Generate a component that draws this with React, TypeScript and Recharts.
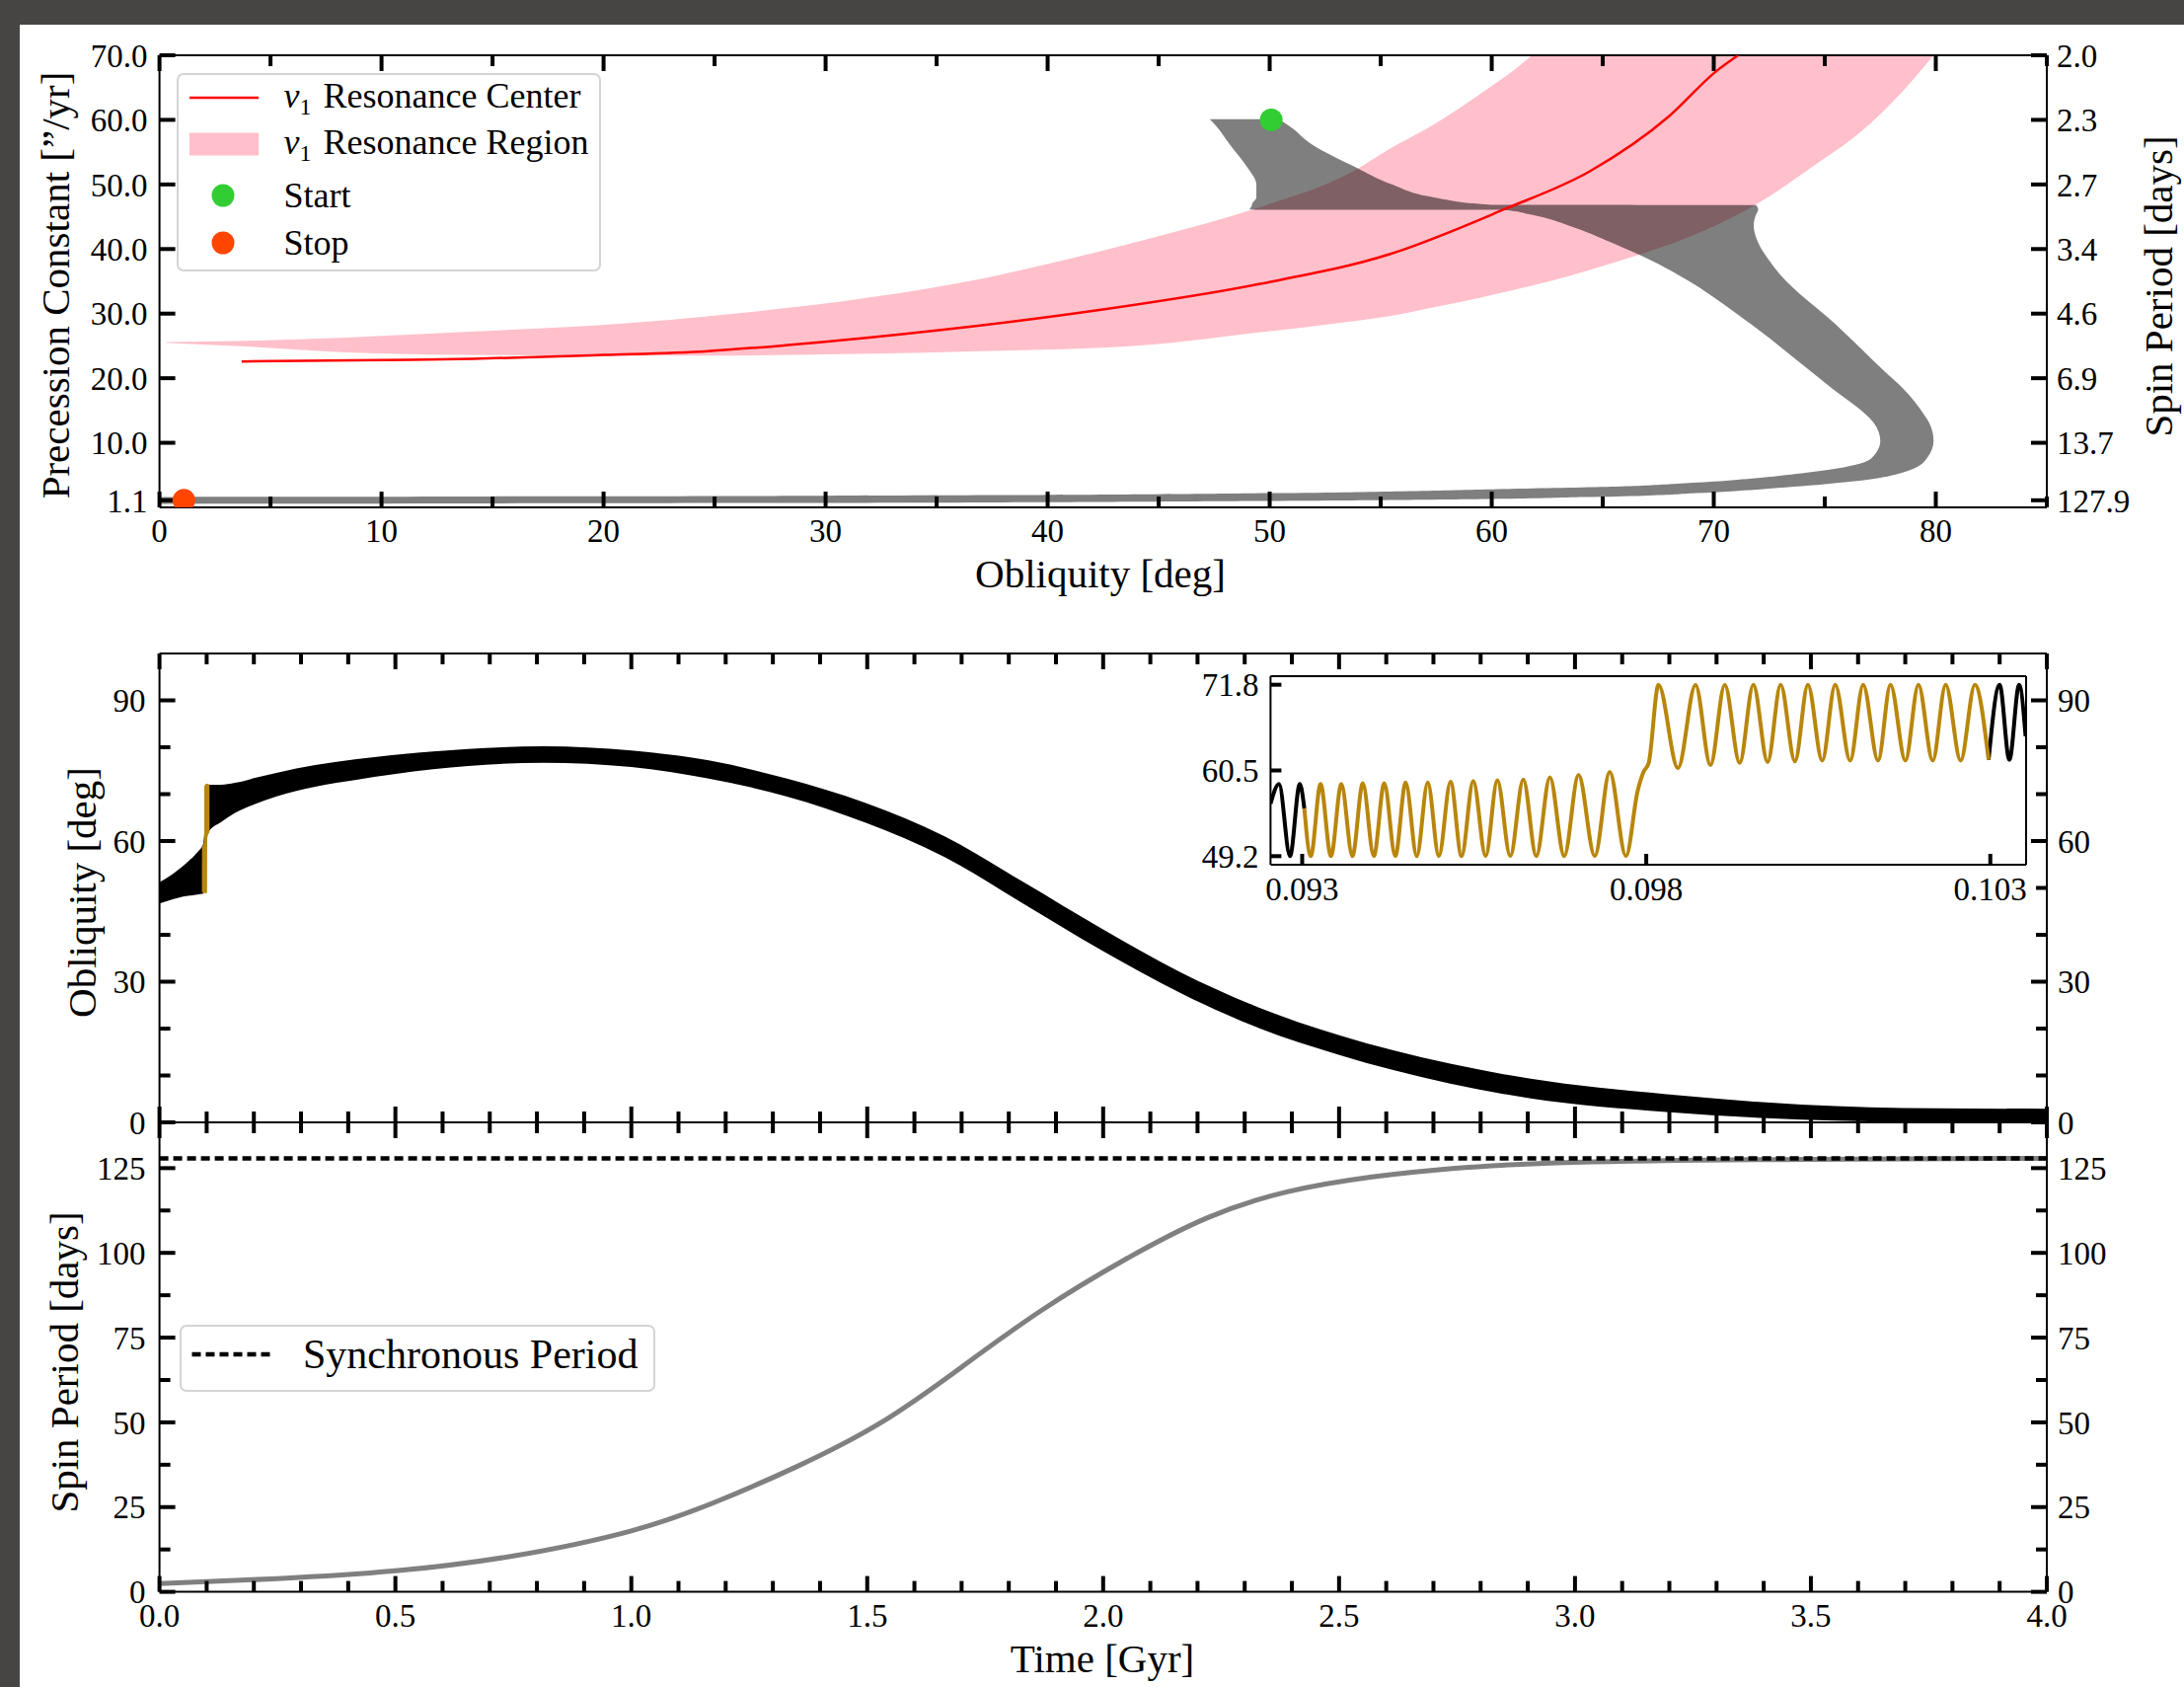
import React from 'react';
import { ComposedChart, Area, Line, Scatter, XAxis, YAxis, Legend } from 'recharts';

const W = 2213;
const H = 1709;
const FONT = '"Liberation Serif", "Times New Roman", serif';
const DARK = '#464543';

// ---------------- Panel 1 : precession constant vs obliquity ----------------
const OBLIQ_MAJOR = [0, 10, 20, 30, 40, 50, 60, 70, 80];
const OBLIQ_MINOR = [5, 15, 25, 35, 45, 55, 65, 75, 85];
const PREC_TICKS = [1.1, 10, 20, 30, 40, 50, 60, 70];
const SPIN_TICK_LABELS = ['127.9', '13.7', '6.9', '4.6', '3.4', '2.7', '2.3', '2.0'];

// nu_1 resonance region (pink band); upper edge continues above the frame
const REGION_OBLIQ = [0.3, 4, 8.4, 14, 21, 25, 32, 37, 41.6, 45, 49.3, 53.9, 55.4, 57.4, 59.4, 61.4, 62.0, 65.4, 69.4, 71.9, 74.5, 76.5, 78.5, 79.9];
const REGION_LOW = [25.5, 24.9, 24.0, 23.6, 23.5, 23.5, 23.8, 24.2, 24.6, 25.3, 27.0, 28.9, 29.6, 31.0, 32.4, 34.0, 34.5, 37.8, 42.6, 46.9, 52.9, 57.8, 64.4, 70.0];
const REGION_HIGH = [25.6, 25.8, 26.3, 27.2, 28.5, 29.7, 32.5, 35.4, 39.0, 42.0, 46.2, 52.3, 55.5, 59.3, 63.8, 68.8, 70.6, 81, 95, 104, 114, 122, 130, 136];

// nu_1 resonance center (red line)
const CENTER_OBLIQ = [3.7, 10, 14.1, 20, 24.7, 28.2, 35.3, 42.4, 49.4, 55.4, 60.6, 64.4, 68.0, 70.1, 71.1];
const CENTER_PREC = [22.6, 22.8, 23.0, 23.6, 24.2, 25.1, 27.5, 30.6, 34.5, 39.2, 46.2, 52.0, 60.6, 67.5, 70.0];

// trajectory envelope (gray): obliquity range at each precession constant
const TRACK_PREC = [0.55, 0.7, 1.0, 1.3, 1.6, 1.7, 1.8, 2.2, 2.5, 2.8, 3.2, 3.6, 4.0, 4.6, 5.4, 6.0, 7.6, 10.3, 13.1, 14.2, 18.5, 20.7, 28.3, 36.0, 38.2, 41.0, 43.6, 45.3, 46.07, 46.1, 46.8, 46.85, 48.0, 50.0, 52.6, 56.2, 59.0, 60.1];
const TRACK_OBLIQ_MIN = [0, 0, 0, 0, 0, 15, 30, 50, 56, 60, 65.4, 68.0, 70.0, 72.1, 74.2, 75.5, 77.1, 77.5, 77.2, 76.9, 75.3, 74.5, 71.7, 68.4, 67.2, 65.4, 63.5, 61.8, 60.5, 49.1, 49.2, 49.2, 49.4, 49.4, 49.0, 48.2, 47.6, 47.3];
const TRACK_OBLIQ_MAX = [0.3, 30, 50, 60, 64.2, 65.6, 66.8, 69.2, 70.8, 72.1, 73.6, 75.0, 76.2, 77.5, 78.5, 79.0, 79.6, 79.9, 79.7, 79.5, 78.5, 77.8, 75.5, 73.0, 72.5, 72.0, 71.8, 71.9, 72.0, 72.0, 71.9, 60.0, 57.4, 55.5, 53.9, 51.9, 50.9, 50.4];

const START_POINT = [{ obliq: 50.07, prec: 60.0 }];
const STOP_POINT = [{ obliq: 1.1, prec: 1.1 }];

// ---------------- Panel 2 : obliquity vs time ----------------
const TIME_MAJOR = [0, 0.5, 1, 1.5, 2, 2.5, 3, 3.5, 4];
const TIME_MINOR = [0.1, 0.2, 0.3, 0.4, 0.6, 0.7, 0.8, 0.9, 1.1, 1.2, 1.3, 1.4, 1.6, 1.7, 1.8, 1.9, 2.1, 2.2, 2.3, 2.4, 2.6, 2.7, 2.8, 2.9, 3.1, 3.2, 3.3, 3.4, 3.6, 3.7, 3.8, 3.9];
const OBL_MAJOR = [0, 30, 60, 90];
const OBL_MINOR = [10, 20, 40, 50, 70, 80];

const BAND_TIME = [0, 0.02, 0.04, 0.06, 0.08, 0.093, 0.103, 0.13, 0.16, 0.2, 0.25, 0.33, 0.414, 0.58, 0.814, 1.0, 1.164, 1.33, 1.497, 1.664, 1.83, 1.997, 2.164, 2.33, 2.497, 2.617, 2.906, 3.194, 3.48, 3.77, 4.0];
const BAND_LOW = [46.7, 47.3, 47.9, 48.3, 48.6, 48.8, 61.8, 64.0, 66.0, 67.8, 69.6, 71.6, 73.0, 75.3, 76.7, 75.8, 73.3, 69.5, 63.9, 56.6, 46.7, 36.7, 27.6, 20.1, 14.5, 11.1, 5.1, 2.2, 0.6, 0.1, 0.1];
const BAND_HIGH = [51.2, 52.4, 53.9, 55.6, 57.6, 59.5, 72.0, 72.0, 72.4, 73.4, 74.6, 76.2, 77.4, 79.1, 80.2, 79.3, 77.2, 73.3, 68.1, 61.0, 51.3, 41.3, 32.0, 24.5, 18.7, 15.3, 9.3, 6.0, 3.8, 3.0, 2.9];

// inset: zoom on the resonance crossing [time Gyr, obliquity deg]
const INSET_T_TICKS = [0.093, 0.098, 0.103];
const INSET_V_TICKS = [49.2, 60.5, 71.8];
const INSET_LEAD = [[0.09254, 56.1], [0.092663, 58.7], [0.092823, 49.2], [0.092965, 58.7], [0.093031, 55.5]];
const INSET_GOLD = [
  [0.093031, 55.5], [0.093125, 49.2], [0.093267, 58.7], [0.093418, 49.2], [0.093569, 58.7], [0.09373, 49.2],
  [0.093881, 58.8], [0.094041, 49.2], [0.094193, 58.8], [0.094353, 49.2], [0.094504, 58.9], [0.094665, 49.2],
  [0.094825, 58.9], [0.094986, 49.2], [0.095156, 59.0], [0.095316, 49.2], [0.095486, 59.1], [0.095666, 49.2],
  [0.095836, 59.2], [0.096024, 49.2], [0.096213, 59.3], [0.096402, 49.2], [0.0966, 59.6], [0.096808, 49.2],
  [0.097016, 59.9], [0.097252, 49.2], [0.097469, 60.3], [0.097705, 49.2], [0.097875, 57.8], [0.09796, 60.3],
  [0.098036, 61.5], [0.098178, 71.8], [0.098461, 60.8], [0.098716, 71.8], [0.098933, 61.2], [0.099141, 71.8],
  [0.099358, 61.5], [0.099556, 71.8], [0.099764, 61.6], [0.099953, 71.8], [0.100161, 61.7], [0.100349, 71.8],
  [0.100557, 61.8], [0.100746, 71.8], [0.100963, 61.8], [0.101152, 71.8], [0.101369, 61.8], [0.101549, 71.8],
  [0.101766, 61.8], [0.101955, 71.8], [0.102163, 61.8], [0.102351, 71.8], [0.102569, 61.8], [0.102776, 71.8],
  [0.102975, 61.9],
];
const INSET_TAIL = [[0.102975, 61.9], [0.103135, 71.8], [0.103277, 61.9], [0.103419, 71.8], [0.103513, 65.0]];

// ---------------- Panel 3 : spin period vs time ----------------
const SPIN_MAJOR = [0, 25, 50, 75, 100, 125];
const SPIN_MINOR = [12.5, 37.5, 62.5, 87.5, 112.5];
const SPIN_TIME = [0, 0.25, 0.5, 0.75, 1.0, 1.18, 1.35, 1.53, 1.7, 1.87, 2.05, 2.22, 2.39, 2.57, 2.74, 3.0, 3.5, 4.0];
const SPIN_DAYS = [2.4, 3.9, 6.2, 10.6, 18.0, 26.6, 36.9, 50.0, 66.3, 83.1, 98.3, 110.3, 118.0, 122.4, 124.9, 126.7, 127.6, 127.9];
const SYNC_PERIOD = 127.9;

// ---------------- layout / style ----------------
const P1 = { left: 161.6, right: 2074, top: 56, bottom: 514 };
const P2 = { left: 161.6, right: 2074, top: 662, bottom: 1137 };
const P3 = { left: 161.6, right: 2074, top: 1137, bottom: 1612.6 };
const PI = { left: 1287.4, right: 2053, top: 685, bottom: 876 };
const YW = 100;
const XH = 60;
const THIN = 0.01; // size of mirrored (inside) axes so they do not stack
const MAJOR = 16;
const MINOR = 11;
const SPINE = { stroke: '#000', strokeWidth: 2 };
const TICKLINE = { stroke: '#000', strokeWidth: 4 };
const TICK_TEXT = { fontFamily: FONT, fontSize: 33, fill: '#000' };
const LAYER: React.CSSProperties = { position: 'absolute', left: 0, top: 0, width: W, height: H };
const NoTick = () => null;

const baseMargin = (p: typeof P1, xLabels: boolean) => ({
  left: p.left - YW,
  right: W - p.right - YW,
  top: p.top,
  bottom: H - p.bottom - (xLabels ? XH : 0),
});
const overlayMargin = (p: typeof P1) => ({ left: p.left, right: W - p.right, top: p.top, bottom: H - p.bottom });

type FrameCfg = {
  xKey: string;
  xDomain: [number, number];
  xMajor: number[];
  xMinor: number[];
  xLabels: boolean;
  xFmt?: (v: number) => string;
  yDomain: [number, number];
  yMajor: number[];
  yMinor: number[];
  yFmtL: (v: number) => string;
  yFmtR: (v: number) => string;
  yMarginL: number;
  yMarginR: number;
};

function frame(c: FrameCfg) {
  const els = [
    <XAxis key="xb" xAxisId="b" type="number" dataKey={c.xKey} domain={c.xDomain} allowDataOverflow ticks={c.xMajor} interval={0}
      mirror={!c.xLabels} height={c.xLabels ? XH : THIN} tickSize={c.xLabels ? -MAJOR : MAJOR} tickMargin={28}
      tick={c.xLabels ? TICK_TEXT : NoTick} tickFormatter={c.xFmt} axisLine={SPINE} tickLine={TICKLINE} />,
    <XAxis key="xbm" xAxisId="bm" type="number" dataKey={c.xKey} domain={c.xDomain} allowDataOverflow ticks={c.xMinor} interval={0}
      mirror height={THIN} tickSize={MINOR} tick={NoTick} axisLine={false} tickLine={TICKLINE} />,
    <XAxis key="xt" xAxisId="t" orientation="top" type="number" dataKey={c.xKey} domain={c.xDomain} allowDataOverflow ticks={c.xMajor} interval={0}
      mirror height={THIN} tickSize={MAJOR} tick={NoTick} axisLine={SPINE} tickLine={TICKLINE} />,
    <XAxis key="xtm" xAxisId="tm" orientation="top" type="number" dataKey={c.xKey} domain={c.xDomain} allowDataOverflow ticks={c.xMinor} interval={0}
      mirror height={THIN} tickSize={MINOR} tick={NoTick} axisLine={false} tickLine={TICKLINE} />,
    <YAxis key="yl" yAxisId="l" type="number" domain={c.yDomain} allowDataOverflow ticks={c.yMajor} interval={0} width={YW}
      tickSize={-MAJOR} tickMargin={c.yMarginL} tick={TICK_TEXT} tickFormatter={c.yFmtL} axisLine={SPINE} tickLine={TICKLINE} />,
    <YAxis key="yr" yAxisId="r" orientation="right" type="number" domain={c.yDomain} allowDataOverflow ticks={c.yMajor} interval={0} width={YW}
      tickSize={-MAJOR} tickMargin={c.yMarginR} tick={TICK_TEXT} tickFormatter={c.yFmtR} axisLine={SPINE} tickLine={TICKLINE} />,
  ];
  if (c.yMinor.length) {
    els.push(
      <YAxis key="ylm" yAxisId="lm" type="number" domain={c.yDomain} allowDataOverflow ticks={c.yMinor} interval={0}
        mirror width={THIN} tickSize={MINOR} tick={NoTick} axisLine={false} tickLine={TICKLINE} />,
      <YAxis key="yrm" yAxisId="rm" orientation="right" type="number" domain={c.yDomain} allowDataOverflow ticks={c.yMinor} interval={0}
        mirror width={THIN} tickSize={MINOR} tick={NoTick} axisLine={false} tickLine={TICKLINE} />,
    );
  }
  return els;
}

// ---------------- legends ----------------
const Nu = () => (
  <>
    <span style={{ fontStyle: 'italic' }}>ν</span>
    <span style={{ fontSize: 24, position: 'relative', top: 7, marginRight: 12 }}>1</span>
  </>
);

const TOP_LEGEND_ITEMS = [
  { kind: 'line', color: '#FF0000', label: 'Resonance Center', nu: true },
  { kind: 'rect', color: '#FFC0CB', label: 'Resonance Region', nu: true },
  { kind: 'dot', color: '#32CD32', label: 'Start', nu: false },
  { kind: 'dot', color: '#FF4500', label: 'Stop', nu: false },
];
const TOP_LEGEND_ROW_Y = [22.5, 69.5, 121.5, 169.5];

function TopLegendContent() {
  return (
    <div style={{ width: 430, height: 201, boxSizing: 'border-box', border: '2.5px solid #d4d4d4', borderRadius: 7,
      background: 'rgba(255,255,255,0.85)', position: 'relative', fontFamily: FONT, fontSize: 36, color: '#000' }}>
      {TOP_LEGEND_ITEMS.map((it, i) => (
        <div key={it.label} style={{ position: 'absolute', left: 0, top: TOP_LEGEND_ROW_Y[i] - 25, height: 50,
          display: 'flex', alignItems: 'center', whiteSpace: 'nowrap' }}>
          <svg width={107} height={50} style={{ display: 'block', flex: 'none' }}>
            {it.kind === 'line' && <line x1={11} x2={81} y1={25} y2={25} stroke={it.color} strokeWidth={2.5} />}
            {it.kind === 'rect' && <rect x={11} y={13.5} width={70} height={23} fill={it.color} />}
            {it.kind === 'dot' && <circle cx={45} cy={25} r={11.5} fill={it.color} />}
          </svg>
          <span style={{ lineHeight: '50px' }}>{it.nu && <Nu />}{it.label}</span>
        </div>
      ))}
    </div>
  );
}

function BotLegendContent() {
  return (
    <div style={{ width: 482, height: 68, boxSizing: 'border-box', border: '2.5px solid #d4d4d4', borderRadius: 7,
      background: 'rgba(255,255,255,0.85)', position: 'relative', fontFamily: FONT, fontSize: 42, color: '#000' }}>
      <div style={{ position: 'absolute', left: 0, top: 28 - 25, height: 50, display: 'flex', alignItems: 'center', whiteSpace: 'nowrap' }}>
        <svg width={123} height={50} style={{ display: 'block', flex: 'none' }}>
          <line x1={10.5} x2={93.5} y1={25} y2={25} stroke="#000" strokeWidth={4.5} strokeDasharray="9 5" />
        </svg>
        <span style={{ lineHeight: '50px' }}>Synchronous Period</span>
      </div>
    </div>
  );
}

// ---------------- titles ----------------
function Title({ text, x, y, rotate }: { text: string; x: number; y: number; rotate?: boolean }) {
  return (
    <div style={{ position: 'absolute', left: x, top: y, transform: `translate(-50%, -50%)${rotate ? ' rotate(-90deg)' : ''}`,
      fontFamily: FONT, fontSize: 41, lineHeight: 1, whiteSpace: 'nowrap', color: '#000' }}>{text}</div>
  );
}

// ---------------- charts ----------------
function TopBase() {
  const rows = REGION_OBLIQ.map((x, i) => ({ obliq: x, region: [REGION_LOW[i], REGION_HIGH[i]] }));
  return (
    <div style={LAYER}>
      <ComposedChart width={W} height={H} data={rows} margin={baseMargin(P1, true)}>
        {frame({
          xKey: 'obliq', xDomain: [0, 85], xMajor: OBLIQ_MAJOR, xMinor: OBLIQ_MINOR, xLabels: true, xFmt: (v) => String(v),
          yDomain: [0, 70], yMajor: PREC_TICKS, yMinor: [], yFmtL: (v) => v.toFixed(1),
          yFmtR: (v) => SPIN_TICK_LABELS[PREC_TICKS.indexOf(v)] ?? '', yMarginL: 28, yMarginR: 26,
        })}
        <Area xAxisId="b" yAxisId="l" dataKey="region" type="monotone" stroke="none" fill="#FFC0CB" fillOpacity={1} isAnimationActive={false} />
        <Legend layout="horizontal" verticalAlign="middle" align="center" content={TopLegendContent}
          wrapperStyle={{ position: 'absolute', left: 178.6, top: 74, width: 430, height: 201, margin: 0, padding: 0 }} />
      </ComposedChart>
    </div>
  );
}

function TopTrack() {
  const rows = TRACK_PREC.map((p, i) => ({ prec: p, track: [TRACK_OBLIQ_MIN[i], TRACK_OBLIQ_MAX[i]] }));
  return (
    <div style={LAYER}>
      <ComposedChart layout="vertical" width={W} height={H} data={rows} margin={overlayMargin(P1)}>
        <XAxis type="number" domain={[0, 85]} allowDataOverflow hide />
        <YAxis type="number" dataKey="prec" domain={[0, 70]} allowDataOverflow hide reversed />
        <Area dataKey="track" type="monotone" stroke="none" fill="#000" fillOpacity={0.5} isAnimationActive={false} />
      </ComposedChart>
    </div>
  );
}

const dotShape = (color: string) => (props: any) => <circle cx={props.cx} cy={props.cy} r={11.5} fill={color} />;

function TopFront() {
  const rows = CENTER_OBLIQ.map((x, i) => ({ obliq: x, center: CENTER_PREC[i] }));
  return (
    <div style={LAYER}>
      <ComposedChart width={W} height={H} data={rows} margin={overlayMargin(P1)}>
        <XAxis xAxisId="b" type="number" dataKey="obliq" domain={[0, 85]} allowDataOverflow hide />
        <YAxis yAxisId="l" type="number" domain={[0, 70]} allowDataOverflow hide />
        <Line xAxisId="b" yAxisId="l" dataKey="center" type="monotone" stroke="#FF0000" strokeWidth={2.5} dot={false} isAnimationActive={false} />
        <Scatter xAxisId="b" yAxisId="l" data={START_POINT} dataKey="prec" fill="#32CD32" shape={dotShape('#32CD32')} isAnimationActive={false} />
        <Scatter xAxisId="b" yAxisId="l" data={STOP_POINT} dataKey="prec" fill="#FF4500" shape={dotShape('#FF4500')} isAnimationActive={false} />
      </ComposedChart>
    </div>
  );
}

function MidChart() {
  const rows: any[] = BAND_TIME.map((t, i) => ({ t, band: [BAND_LOW[i], BAND_HIGH[i]] }));
  INSET_GOLD.forEach(([t, v]) => rows.push({ t, gold: v }));
  return (
    <div style={LAYER}>
      <ComposedChart width={W} height={H} data={rows} margin={baseMargin(P2, false)}>
        {frame({
          xKey: 't', xDomain: [0, 4], xMajor: TIME_MAJOR, xMinor: TIME_MINOR, xLabels: false,
          yDomain: [0, 100], yMajor: OBL_MAJOR, yMinor: OBL_MINOR, yFmtL: (v) => String(v), yFmtR: (v) => String(v),
          yMarginL: 30, yMarginR: 27,
        })}
        <Area xAxisId="b" yAxisId="l" dataKey="band" type="monotone" stroke="none" fill="#000" fillOpacity={1} isAnimationActive={false} />
        <Line xAxisId="b" yAxisId="l" dataKey="gold" type="monotone" stroke="#B8860B" strokeWidth={3} dot={false} isAnimationActive={false} />
      </ComposedChart>
    </div>
  );
}

function InsetChart() {
  const rows: any[] = [];
  INSET_LEAD.forEach(([t, v]) => rows.push({ t, lead: v }));
  INSET_GOLD.forEach(([t, v]) => rows.push({ t, gold: v }));
  INSET_TAIL.forEach(([t, v]) => rows.push({ t, tail: v }));
  const dom: [number, number] = [0.09254, 0.10352];
  const vdom: [number, number] = [48.07, 72.93];
  return (
    <div style={LAYER}>
      <ComposedChart width={W} height={H} data={rows}
        margin={{ left: PI.left - 80, right: W - PI.right, top: PI.top, bottom: H - PI.bottom - 50 }}>
        <XAxis xAxisId="b" type="number" dataKey="t" domain={dom} allowDataOverflow ticks={INSET_T_TICKS} interval={0} height={50}
          tickSize={-MINOR} tickMargin={24} tick={TICK_TEXT} tickFormatter={(v) => v.toFixed(3)} axisLine={SPINE} tickLine={TICKLINE} />
        <XAxis xAxisId="t" orientation="top" type="number" dataKey="t" domain={dom} allowDataOverflow mirror height={THIN}
          ticks={INSET_T_TICKS} tick={NoTick} tickLine={false} axisLine={SPINE} />
        <YAxis yAxisId="l" type="number" domain={vdom} allowDataOverflow ticks={INSET_V_TICKS} interval={0} width={80}
          tickSize={-MINOR} tickMargin={23} tick={TICK_TEXT} tickFormatter={(v) => v.toFixed(1)} axisLine={SPINE} tickLine={TICKLINE} />
        <YAxis yAxisId="r" orientation="right" type="number" domain={vdom} allowDataOverflow mirror width={THIN}
          ticks={INSET_V_TICKS} tick={NoTick} tickLine={false} axisLine={SPINE} />
        <Line xAxisId="b" yAxisId="l" dataKey="lead" type="monotone" stroke="#000" strokeWidth={4} dot={false} isAnimationActive={false} />
        <Line xAxisId="b" yAxisId="l" dataKey="tail" type="monotone" stroke="#000" strokeWidth={4} dot={false} isAnimationActive={false} />
        <Line xAxisId="b" yAxisId="l" dataKey="gold" type="monotone" stroke="#B8860B" strokeWidth={4} dot={false} isAnimationActive={false} />
      </ComposedChart>
    </div>
  );
}

function BotChart() {
  const rows = SPIN_TIME.map((t, i) => ({ t, spin: SPIN_DAYS[i], sync: SYNC_PERIOD }));
  return (
    <div style={LAYER}>
      <ComposedChart width={W} height={H} data={rows} margin={baseMargin(P3, true)}>
        {frame({
          xKey: 't', xDomain: [0, 4], xMajor: TIME_MAJOR, xMinor: TIME_MINOR, xLabels: true, xFmt: (v) => v.toFixed(1),
          yDomain: [0, 138.5], yMajor: SPIN_MAJOR, yMinor: SPIN_MINOR, yFmtL: (v) => String(v), yFmtR: (v) => String(v),
          yMarginL: 30, yMarginR: 27,
        })}
        <Line xAxisId="b" yAxisId="l" dataKey="spin" type="natural" stroke="#808080" strokeWidth={5} dot={false} isAnimationActive={false} />
        <Line xAxisId="b" yAxisId="l" dataKey="sync" type="linear" stroke="#000" strokeWidth={4.5} strokeDasharray="9 5" dot={false} isAnimationActive={false} />
        <Legend layout="horizontal" verticalAlign="middle" align="center" content={BotLegendContent}
          wrapperStyle={{ position: 'absolute', left: 182, top: 1341.6, width: 482, height: 68, margin: 0, padding: 0 }} />
      </ComposedChart>
    </div>
  );
}

export default function App() {
  return (
    <div style={{ position: 'absolute', left: 0, top: 0, width: W, height: H, background: '#fff', overflow: 'hidden' }}>
      <div style={{ position: 'absolute', left: 0, top: 0, width: W, height: 25, background: DARK }} />
      <div style={{ position: 'absolute', left: 0, top: 0, width: 20, height: H, background: DARK }} />
      <TopBase />
      <TopTrack />
      <TopFront />
      <MidChart />
      <InsetChart />
      <BotChart />
      <Title text="Precession Constant [”/yr]" x={56} y={289} rotate />
      <Title text="Spin Period [days]" x={2187} y={290} rotate />
      <Title text="Obliquity [deg]" x={1115} y={581} />
      <Title text="Obliquity [deg]" x={83} y={904} rotate />
      <Title text="Spin Period [days]" x={65} y={1380} rotate />
      <Title text="Time [Gyr]" x={1117} y={1680} />
    </div>
  );
}
